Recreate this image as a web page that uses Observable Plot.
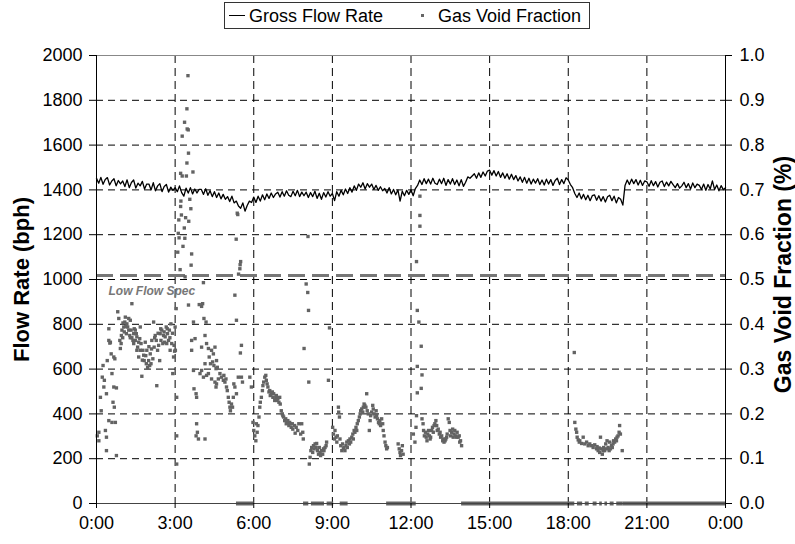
<!DOCTYPE html>
<html><head><meta charset="utf-8">
<script src="https://cdn.jsdelivr.net/npm/d3@7"></script>
<script src="https://cdn.jsdelivr.net/npm/@observablehq/plot@0.6"></script>
<style>
body{margin:0;background:#fff;font-family:"Liberation Sans",Arial,sans-serif;}
#wrap{position:relative;width:795px;height:544px;}
#legend{position:absolute;left:224px;top:2px;width:366px;height:27px;border:1px solid #333;box-sizing:border-box;font-size:18px;color:#000;background:#fff;z-index:2;}
#legend .ln{position:absolute;left:4px;top:12px;width:16px;height:0;border-top:1px solid #000;}
#legend .t1{position:absolute;left:24px;top:3px;line-height:20px;}
#legend .sq{position:absolute;left:196px;top:11px;width:3px;height:3px;background:#666;}
#legend .t2{position:absolute;left:213px;top:3px;line-height:20px;}
</style></head><body>
<div id="wrap">
<div id="legend"><span class="ln"></span><span class="t1">Gross Flow Rate</span><span class="sq"></span><span class="t2">Gas Void Fraction</span></div>
</div>
<script>
const hourTicks = [0,3,6,9,12,15,18,21,24];
const flowTicks = [0,200,400,600,800,1000,1200,1400,1600,1800,2000];
const gvfTicks = [0,0.1,0.2,0.3,0.4,0.5,0.6,0.7,0.8,0.9,1.0];
const lowFlowSpec = 1018;
const specLabel = "Low Flow Spec";

// Gross flow rate (bph), one reading every 5 minutes from 0:00 to 24:00
const grossFlow = [
1452,1430,1456,1425,1446,1455,1422,1440,1450,1418,1442,1427,
1440,1415,1445,1410,1433,1444,1408,1430,1418,1438,1404,1426,
1426,1400,1432,1396,1418,1428,1392,1415,1424,1390,1412,1398,
1410,1392,1418,1388,1372,1408,1386,1410,1382,1404,1386,1402,
1402,1380,1405,1376,1396,1370,1392,1366,1386,1360,1380,1358,
1370,1348,1372,1342,1350,1328,1318,1342,1305,1330,1350,1344,
1368,1344,1372,1350,1378,1356,1382,1362,1386,1366,1382,1390,
1368,1392,1372,1396,1376,1370,1394,1374,1398,1370,1390,1374,
1390,1366,1388,1370,1394,1362,1385,1358,1388,1368,1392,1372,
1384,1352,1392,1372,1398,1378,1404,1384,1410,1390,1418,1398,
1426,1412,1432,1404,1428,1412,1426,1402,1420,1398,1414,1396,
1406,1386,1410,1382,1402,1378,1400,1350,1394,1374,1398,1380,
1400,1374,1406,1420,1444,1424,1450,1428,1448,1426,1452,1430,
1424,1448,1428,1452,1420,1446,1426,1450,1424,1444,1418,1446,
1416,1434,1458,1452,1462,1472,1452,1476,1456,1480,1462,1484,
1488,1466,1486,1462,1482,1456,1476,1452,1472,1448,1470,1446,
1464,1440,1458,1434,1456,1430,1452,1426,1448,1430,1450,1424,
1444,1422,1448,1426,1446,1420,1442,1452,1424,1446,1428,1454,
1444,1424,1410,1384,1366,1386,1360,1380,1356,1376,1352,1374,
1378,1354,1374,1350,1370,1346,1369,1376,1352,1372,1342,1366,
1358,1332,1420,1444,1424,1448,1428,1446,1422,1443,1420,1440,
1436,1416,1441,1419,1437,1413,1434,1440,1415,1435,1418,1438,
1424,1410,1428,1408,1418,1434,1410,1428,1404,1431,1410,1426,
1420,1402,1426,1398,1424,1404,1440,1402,1422,1396,1419,1401,
1410];

// Gas void fraction readings: [hour of day, fraction]
const gvfReadings = [
[0.03,.151],[0.09,.140],[0.15,.237],[0.18,.207],[0.22,.282],[0.25,.308],[0.28,.260],[0.30,.275],[0.34,.163],[0.38,.148],
[0.38,.118],[0.41,.319],[0.47,.390],[0.47,.185],[0.53,.360],[0.56,.334],[0.59,.181],[0.59,.290],[0.63,.226],[0.66,.260],
[0.68,.215],[0.70,.323],[0.72,.181],[0.76,.107],[0.76,.258],[0.47,.364],[0.51,.358],[0.66,.327],[0.09,.159],[0.38,.245],
[0.81,.428],[0.85,.413],[0.89,.364],[0.91,.346],[0.94,.357],[0.97,.387],[1.01,.403],[1.04,.394],[1.06,.383],[1.10,.416],
[1.14,.379],[1.16,.401],[1.19,.394],[1.23,.413],[1.27,.375],[1.29,.409],[1.32,.387],[1.35,.446],[1.35,.370],[1.39,.364],
[1.42,.379],[1.44,.390],[1.48,.364],[1.52,.379],[1.54,.342],[1.57,.349],[1.61,.327],[1.65,.368],[1.67,.394],[1.70,.357],
[1.73,.284],[1.77,.342],[1.80,.331],[1.82,.319],[1.86,.360],[1.90,.312],[1.92,.342],[1.95,.304],[1.99,.319],[2.03,.308],
[2.05,.334],[2.08,.312],[2.11,.364],[2.15,.323],[2.18,.405],[2.20,.349],[2.24,.375],[2.28,.364],[2.30,.263],[2.33,.342],
[2.37,.353],[2.41,.319],[2.43,.379],[2.46,.364],[2.49,.387],[2.53,.357],[2.56,.375],[2.58,.383],[2.62,.372],[2.66,.394],
[2.68,.357],[2.71,.379],[2.75,.364],[2.78,.387],[2.81,.342],[2.84,.401],[2.87,.357],[2.91,.290],[2.94,.327],[2.96,.353],
[3.00,.394],[3.04,.435],[3.01,.342],[3.06,.237],[3.06,.151],[3.06,.088],
[1.23,.387],[1.29,.370],[1.42,.357],[1.48,.387],[1.54,.372],[1.61,.360],[1.67,.342],[1.75,.320],[1.88,.330],[2.00,.350],
[2.10,.345],[2.22,.370],[2.35,.380],[2.45,.390],[2.60,.360],[2.70,.390],[2.80,.370],[2.90,.380],[2.98,.340],[1.12,.395],
[1.08,.405],[0.95,.375],[1.00,.370],
[3.49,.955],[3.45,.881],[3.36,.851],[3.46,.836],[3.50,.834],[3.27,.820],[3.51,.782],[3.45,.760],[3.21,.737],[3.27,.731],
[3.43,.731],[3.68,.740],[3.56,.679],[3.22,.675],[3.21,.663],[3.60,.658],[3.24,.644],[3.40,.638],[3.14,.633],[3.52,.630],
[3.35,.615],[3.12,.603],[3.15,.593],[3.37,.592],[3.30,.574],[3.10,.561],[3.63,.557],[3.61,.532],[3.19,.522],[3.38,.506],
[4.08,.493],
[3.51,.443],[3.92,.444],[4.05,.446],[4.01,.440],[3.70,.405],[4.10,.413],[4.18,.405],[3.76,.368],[3.63,.364],[4.14,.375],
[4.01,.349],[4.20,.357],[4.27,.346],[4.30,.327],[4.39,.342],[4.46,.334],[4.52,.349],[4.58,.319],[4.35,.312],[4.43,.316],
[4.48,.308],[4.56,.301],[4.61,.304],[4.14,.312],[4.01,.297],[3.95,.290],[4.08,.282],[4.20,.286],[4.27,.290],[4.39,.278],
[4.52,.271],[4.56,.260],[4.58,.267],[4.65,.278],[4.71,.290],[4.77,.282],[4.84,.275],[4.86,.286],[4.90,.271],[4.94,.278],
[4.96,.260],[4.99,.252],[5.03,.237],[5.06,.226],[5.09,.215],[5.11,.207],[5.15,.222],[5.19,.215],[5.22,.237],[5.24,.267],
[5.28,.260],[5.34,.245],[5.41,.282],[5.53,.282],[5.57,.271],[3.82,.178],[3.80,.151],[3.85,.159],[3.89,.144],[4.14,.144],
[3.72,.256],[3.82,.237],[3.80,.245],[3.70,.297],[3.63,.342],
[5.28,.465],[5.34,.409],[5.53,.353],[5.49,.336],[5.37,.648],[5.39,.645],[5.33,.590],[5.50,.540],[5.48,.533],[5.47,.524],
[5.42,.512],[8.07,.596],
[5.85,.282],[5.91,.260],[5.97,.181],[6.00,.163],[6.04,.151],[6.08,.140],[6.10,.178],[6.13,.159],[6.16,.174],[6.20,.193],
[6.23,.215],[6.25,.226],[6.29,.237],[6.33,.252],[6.35,.263],[6.38,.271],[6.42,.282],[6.46,.286],[6.48,.275],[6.51,.267],
[6.54,.260],[6.58,.249],[6.61,.252],[6.63,.241],[6.67,.245],[6.71,.249],[6.73,.237],[6.76,.245],[6.80,.230],[6.84,.237],
[6.86,.241],[6.89,.230],[6.92,.234],[6.96,.226],[6.99,.237],[7.01,.222],[7.05,.207],[7.09,.200],[7.11,.196],[7.14,.193],
[7.18,.185],[7.22,.189],[7.24,.178],[7.27,.181],[7.30,.185],[7.34,.174],[7.37,.181],[7.39,.178],[7.43,.170],[7.47,.178],
[7.49,.166],[7.56,.174],[7.62,.170],[7.68,.163],[7.72,.178],[7.79,.155],[7.83,.178],[7.87,.159],[7.89,.144],[7.58,.157],
[7.92,.346],[8.00,.490],[8.06,.471],[8.09,.431],[8.10,.271],
[8.12,.088],[8.15,.103],[8.18,.118],[8.21,.125],[8.25,.114],[8.28,.129],[8.30,.122],[8.34,.133],[8.38,.125],[8.40,.134],
[8.43,.118],[8.47,.110],[8.50,.125],[8.53,.114],[8.55,.107],[8.59,.118],[8.63,.110],[8.66,.122],[8.68,.118],[8.72,.125],
[8.76,.129],[8.78,.137],[8.85,.275],[8.89,.392],
[9.01,.170],[9.04,.155],[9.08,.144],[9.10,.163],[9.14,.148],[9.17,.137],[9.19,.151],[9.23,.215],[9.24,.204],[9.27,.193],
[9.29,.144],[9.32,.129],[9.36,.118],[9.39,.133],[9.42,.122],[9.44,.125],[9.48,.118],[9.52,.129],[9.55,.137],[9.57,.125],
[9.61,.140],[9.65,.133],[9.67,.144],[9.70,.137],[9.74,.148],[9.78,.155],[9.80,.144],[9.83,.163],[9.86,.159],[9.90,.170],
[9.93,.163],[9.95,.178],[9.99,.185],[10.03,.193],[10.06,.200],[10.08,.207],[10.12,.211],[10.16,.204],[10.18,.215],[10.21,.222],
[10.24,.219],[10.28,.215],[10.31,.245],[10.33,.207],[10.37,.200],[10.41,.163],[10.44,.185],[10.46,.196],[10.50,.204],[10.54,.219],
[10.56,.211],[10.59,.200],[10.63,.193],[10.67,.207],[10.69,.196],[10.72,.189],[10.76,.181],[10.79,.178],[10.81,.185],[10.84,.174],
[10.88,.189],[10.92,.178],[10.94,.163],[10.97,.151],[11.01,.137],[11.04,.129],[11.07,.122],[11.10,.125],
[11.51,.133],[11.55,.122],[11.58,.114],[11.60,.107],[11.64,.118],[11.67,.129],[11.70,.110],
[12.09,.155],[12.15,.137],[12.19,.170],[12.21,.196],[12.24,.431],[12.21,.540],[12.30,.405],[12.39,.351],[12.42,.287],[12.24,.306],
[12.24,.247],[12.39,.257],[12.34,.686],[12.34,.643],[12.34,.619],
[12.42,.189],[12.46,.178],[12.48,.163],[12.51,.151],[12.55,.159],[12.58,.148],[12.61,.140],[12.64,.155],[12.67,.163],[12.70,.151],
[12.73,.144],[12.75,.148],[12.79,.163],[12.82,.170],[12.85,.159],[12.88,.174],[12.91,.178],[12.95,.185],[12.98,.174],[13.00,.163],
[13.04,.166],[13.08,.155],[13.11,.159],[13.13,.148],[13.17,.151],[13.21,.140],[13.23,.144],[13.26,.137],[13.30,.140],[13.33,.144],
[13.36,.148],[13.38,.155],[13.42,.189],[13.46,.181],[13.49,.163],[13.51,.151],[13.55,.159],[13.59,.166],[13.61,.148],[13.64,.155],
[13.67,.163],[13.71,.151],[13.74,.148],[13.76,.159],[13.80,.148],[13.84,.151],[13.86,.137],[13.89,.140],[13.93,.129],
[18.23,.337],
[18.25,.181],[18.29,.166],[18.32,.159],[18.34,.148],[18.38,.142],[18.42,.137],[18.44,.140],[18.51,.134],[18.57,.148],[18.63,.133],
[18.70,.137],[18.76,.129],[18.82,.133],[18.89,.129],[18.95,.125],[19.01,.131],[19.08,.122],[19.10,.127],[19.14,.118],[19.18,.124],
[19.20,.114],[19.23,.148],[19.27,.122],[19.30,.110],[19.33,.118],[19.35,.125],[19.39,.118],[19.43,.133],[19.46,.122],[19.48,.140],
[19.52,.125],[19.56,.118],[19.58,.137],[19.61,.122],[19.65,.129],[19.68,.125],[19.71,.133],[19.73,.140],[19.77,.137],[19.81,.144],
[19.84,.140],[19.86,.148],[19.90,.151],[19.94,.159],[19.96,.174],[19.99,.155],[20.06,.118]
];

// Periods (hours) where gas void fraction read 0.0 continuously
const zeroStart = [5.34, 7.90, 8.20, 8.80, 9.30, 11.07, 13.93, 18.35, 18.65, 18.95, 19.20, 19.40, 19.60, 19.85, 20.10];
const zeroEnd   = [6.00, 8.10, 8.70, 9.05, 9.60, 12.20, 18.25, 18.55, 18.80, 19.10, 19.30, 19.50, 19.75, 20.10, 24.00];

const flowData = grossFlow.map((f, i) => ({hour: i * 5 / 60, flow: f}));
const gvfData = gvfReadings.map(([h, v]) => ({hour: h, gvf: v}));
const zeroData = zeroStart.map((s, i) => ({start: s, end: zeroEnd[i]}));
const K = 2000; // right-axis fraction 1.0 aligns with 2000 bph

const chart = Plot.plot({
  width: 795, height: 544,
  marginLeft: 96, marginRight: 70, marginTop: 55, marginBottom: 41,
  style: {fontFamily: '"Liberation Sans", Arial, sans-serif', fontSize: "18px", color: "#000", background: "#fff", overflow: "visible"},
  x: {domain: [0, 24]},
  y: {domain: [0, 2000]},
  marks: [
    Plot.ruleY(flowTicks.filter(d => d > 0 && d < 2000), {stroke: "#000", strokeDasharray: "7,5", strokeWidth: 1}),
    Plot.ruleX(hourTicks.filter(d => d > 0 && d < 24), {stroke: "#000", strokeDasharray: "8,5", strokeWidth: 1}),
    Plot.ruleY([2000], {stroke: "#888", strokeWidth: 1}),
    Plot.ruleY([lowFlowSpec], {stroke: "#777", strokeWidth: 3, strokeDasharray: "17,7"}),
    Plot.text([specLabel], {x: 0, y: lowFlowSpec, dx: 12, dy: 16, textAnchor: "start", fontStyle: "italic", fontWeight: "bold", fontSize: 12, fill: "#777"}),
    Plot.ruleY(zeroData, {y: 0, x1: "start", x2: "end", stroke: "#666", strokeWidth: 4}),
    Plot.dot(gvfData, {x: "hour", y: d => d.gvf * K, symbol: "square", r: 1.9, fill: "#636363", stroke: "none"}),
    Plot.line(flowData, {x: "hour", y: "flow", stroke: "#000", strokeWidth: 1.3}),
    Plot.ruleX([0], {stroke: "#000"}),
    Plot.ruleX([24], {stroke: "#000"}),
    Plot.ruleY([0], {stroke: "#444"}),
    Plot.axisX({ticks: hourTicks, tickFormat: d => `${d % 24}:00`, tickSize: 5, tickPadding: 8, label: null}),
    Plot.axisY({anchor: "left", ticks: flowTicks, tickFormat: d => String(d), tickSize: 7, tickPadding: 7, label: null}),
    Plot.axisY({anchor: "right", ticks: gvfTicks.map(v => v * K), tickFormat: d => (d / K).toFixed(1), tickSize: 6, tickPadding: 8, label: null}),
    Plot.text(["Flow Rate (bph)"], {frameAnchor: "left", dx: -75, rotate: -90, textAnchor: "middle", fontWeight: "bold", fontSize: 22}),
    Plot.text(["Gas Void Fraction (%)"], {frameAnchor: "right", dx: 58, dy: -5, rotate: -90, textAnchor: "middle", fontWeight: "bold", fontSize: 23})
  ]
});
document.getElementById("wrap").appendChild(chart);
</script>
</body></html>
